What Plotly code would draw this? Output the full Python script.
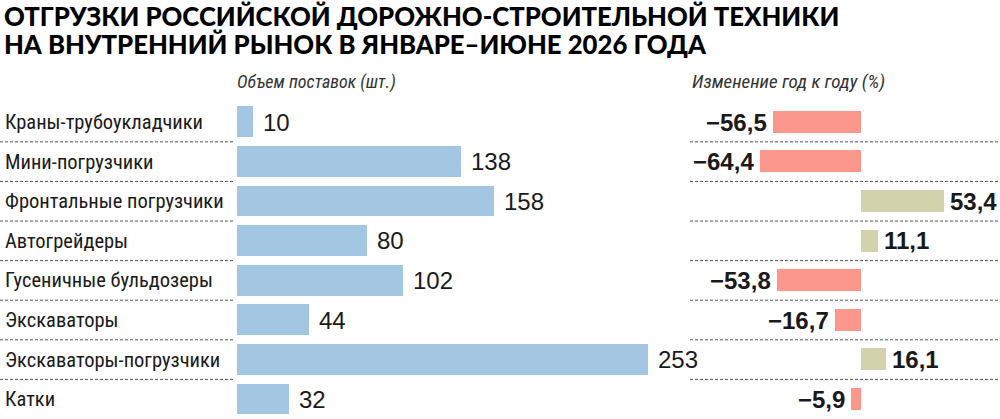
import plotly.graph_objects as go

# данные
categories = [
    "Краны-трубоукладчики",
    "Мини-погрузчики",
    "Фронтальные погрузчики",
    "Автогрейдеры",
    "Гусеничные бульдозеры",
    "Экскаваторы",
    "Экскаваторы-погрузчики",
    "Катки",
]
volume = [10, 138, 158, 80, 102, 44, 253, 32]
change_pct = [-56.5, -64.4, 53.4, 11.1, -53.8, -16.7, 16.1, -5.9]

title_lines = [
    "ОТГРУЗКИ РОССИЙСКОЙ ДОРОЖНО-СТРОИТЕЛЬНОЙ ТЕХНИКИ",
    "НА ВНУТРЕННИЙ РЫНОК В ЯНВАРЕ–ИЮНЕ 2026 ГОДА",
]
left_header = "Объем поставок (шт.)"
right_header = "Изменение год к году (%)"

BLUE = "#A3C7E3"
RED = "#FC978B"
OLIVE = "#D2D3AB"
INK = "#1a1a1a"
NARROW = "Liberation Sans Narrow, Roboto Condensed, Arial Narrow, sans-serif"
PLAIN = "Liberation Sans, Arial, sans-serif"

Y_DOMAIN = [0, 0.756]
n = len(categories)


def fmt_change(v):
    s = f"{abs(v):.1f}".replace(".", ",")
    return ("\u2212" + s) if v < 0 else s


fig = go.Figure()

fig.add_trace(go.Bar(
    x=volume, y=categories, orientation="h",
    marker=dict(color=BLUE, line=dict(width=0)),
    width=0.78, xaxis="x", yaxis="y", hoverinfo="x+y",
))

fig.add_trace(go.Bar(
    x=change_pct, y=categories, orientation="h",
    marker=dict(color=[RED if v < 0 else OLIVE for v in change_pct], line=dict(width=0)),
    width=0.56, xaxis="x2", yaxis="y", hoverinfo="x+y",
))

# пунктирные разделители между строками: отдельная пара осей на всю ширину,
# рисуется последней, поверх остальных подграфиков
sep_x, sep_y = [], []
for i in range(n - 1):
    for x0, x1 in [(0.0, 0.234), (0.69, 1.0)]:
        sep_x += [x0, x1, None]
        sep_y += [i + 0.5, i + 0.5, None]
fig.add_trace(go.Scatter(
    x=sep_x, y=sep_y, mode="lines", xaxis="x3", yaxis="y2",
    line=dict(color="#555", width=1, dash="3px,2px"), hoverinfo="skip",
))

annotations = []
for cat, v in zip(categories, volume):
    annotations.append(dict(
        x=v, y=cat, xref="x", yref="y", text=str(v), showarrow=False,
        xanchor="left", xshift=8, font=dict(family=PLAIN, size=24, color=INK),
    ))
    annotations.append(dict(
        x=0.003, y=cat, xref="paper", yref="y", text=cat, showarrow=False,
        xanchor="left", font=dict(family=NARROW, size=20.5, color=INK),
    ))
for cat, v in zip(categories, change_pct):
    annotations.append(dict(
        x=v, y=cat, xref="x2", yref="y", text=fmt_change(v), showarrow=False,
        xanchor="right" if v < 0 else "left", xshift=-4 if v < 0 else 4,
        font=dict(family=PLAIN, size=24, color=INK, weight="bold"),
    ))

for i, line in enumerate(title_lines):
    annotations.append(dict(
        x=0.002, y=1 - (16 + 28 * i) / 419, xref="paper", yref="paper", text=line,
        showarrow=False, xanchor="left", yanchor="middle",
        font=dict(family="Lato, Roboto, Arial, sans-serif", size=25.7, color="#000", weight=900),
    ))

annotations.append(dict(
    x=0.235, y=1 - 82 / 419, xref="paper", yref="paper", text=f"<i>{left_header}</i>",
    showarrow=False, xanchor="left", yanchor="middle",
    font=dict(family=NARROW, size=18, color="#333"),
))
annotations.append(dict(
    x=0.69, y=1 - 81 / 419, xref="paper", yref="paper", text=f"<i>{right_header}</i>",
    showarrow=False, xanchor="left", yanchor="middle",
    font=dict(family=NARROW, size=19, color="#333"),
))

fig.update_layout(
    width=1000, height=419,
    margin=dict(l=0, r=0, t=0, b=0),
    # прозрачный фон подграфиков, иначе перекрывающиеся области закрывают друг друга
    paper_bgcolor="white", plot_bgcolor="rgba(0,0,0,0)",
    showlegend=False, bargap=0,
    xaxis=dict(domain=[0.237, 0.692], range=[0, 280], visible=False, fixedrange=True),
    xaxis2=dict(domain=[0.692, 1.0], range=[-108.1, 89.3], visible=False, fixedrange=True),
    xaxis3=dict(domain=[0, 1], range=[0, 1], visible=False, fixedrange=True),
    yaxis=dict(domain=Y_DOMAIN, range=[n - 0.5, -0.5], visible=False, fixedrange=True),
    yaxis2=dict(domain=Y_DOMAIN, range=[n - 0.5, -0.5], type="linear",
                visible=False, fixedrange=True),
    annotations=annotations,
)

fig.write_html(
    "out.html",
    config={"displayModeBar": False},
    post_script="document.body.style.margin='0';",
)
